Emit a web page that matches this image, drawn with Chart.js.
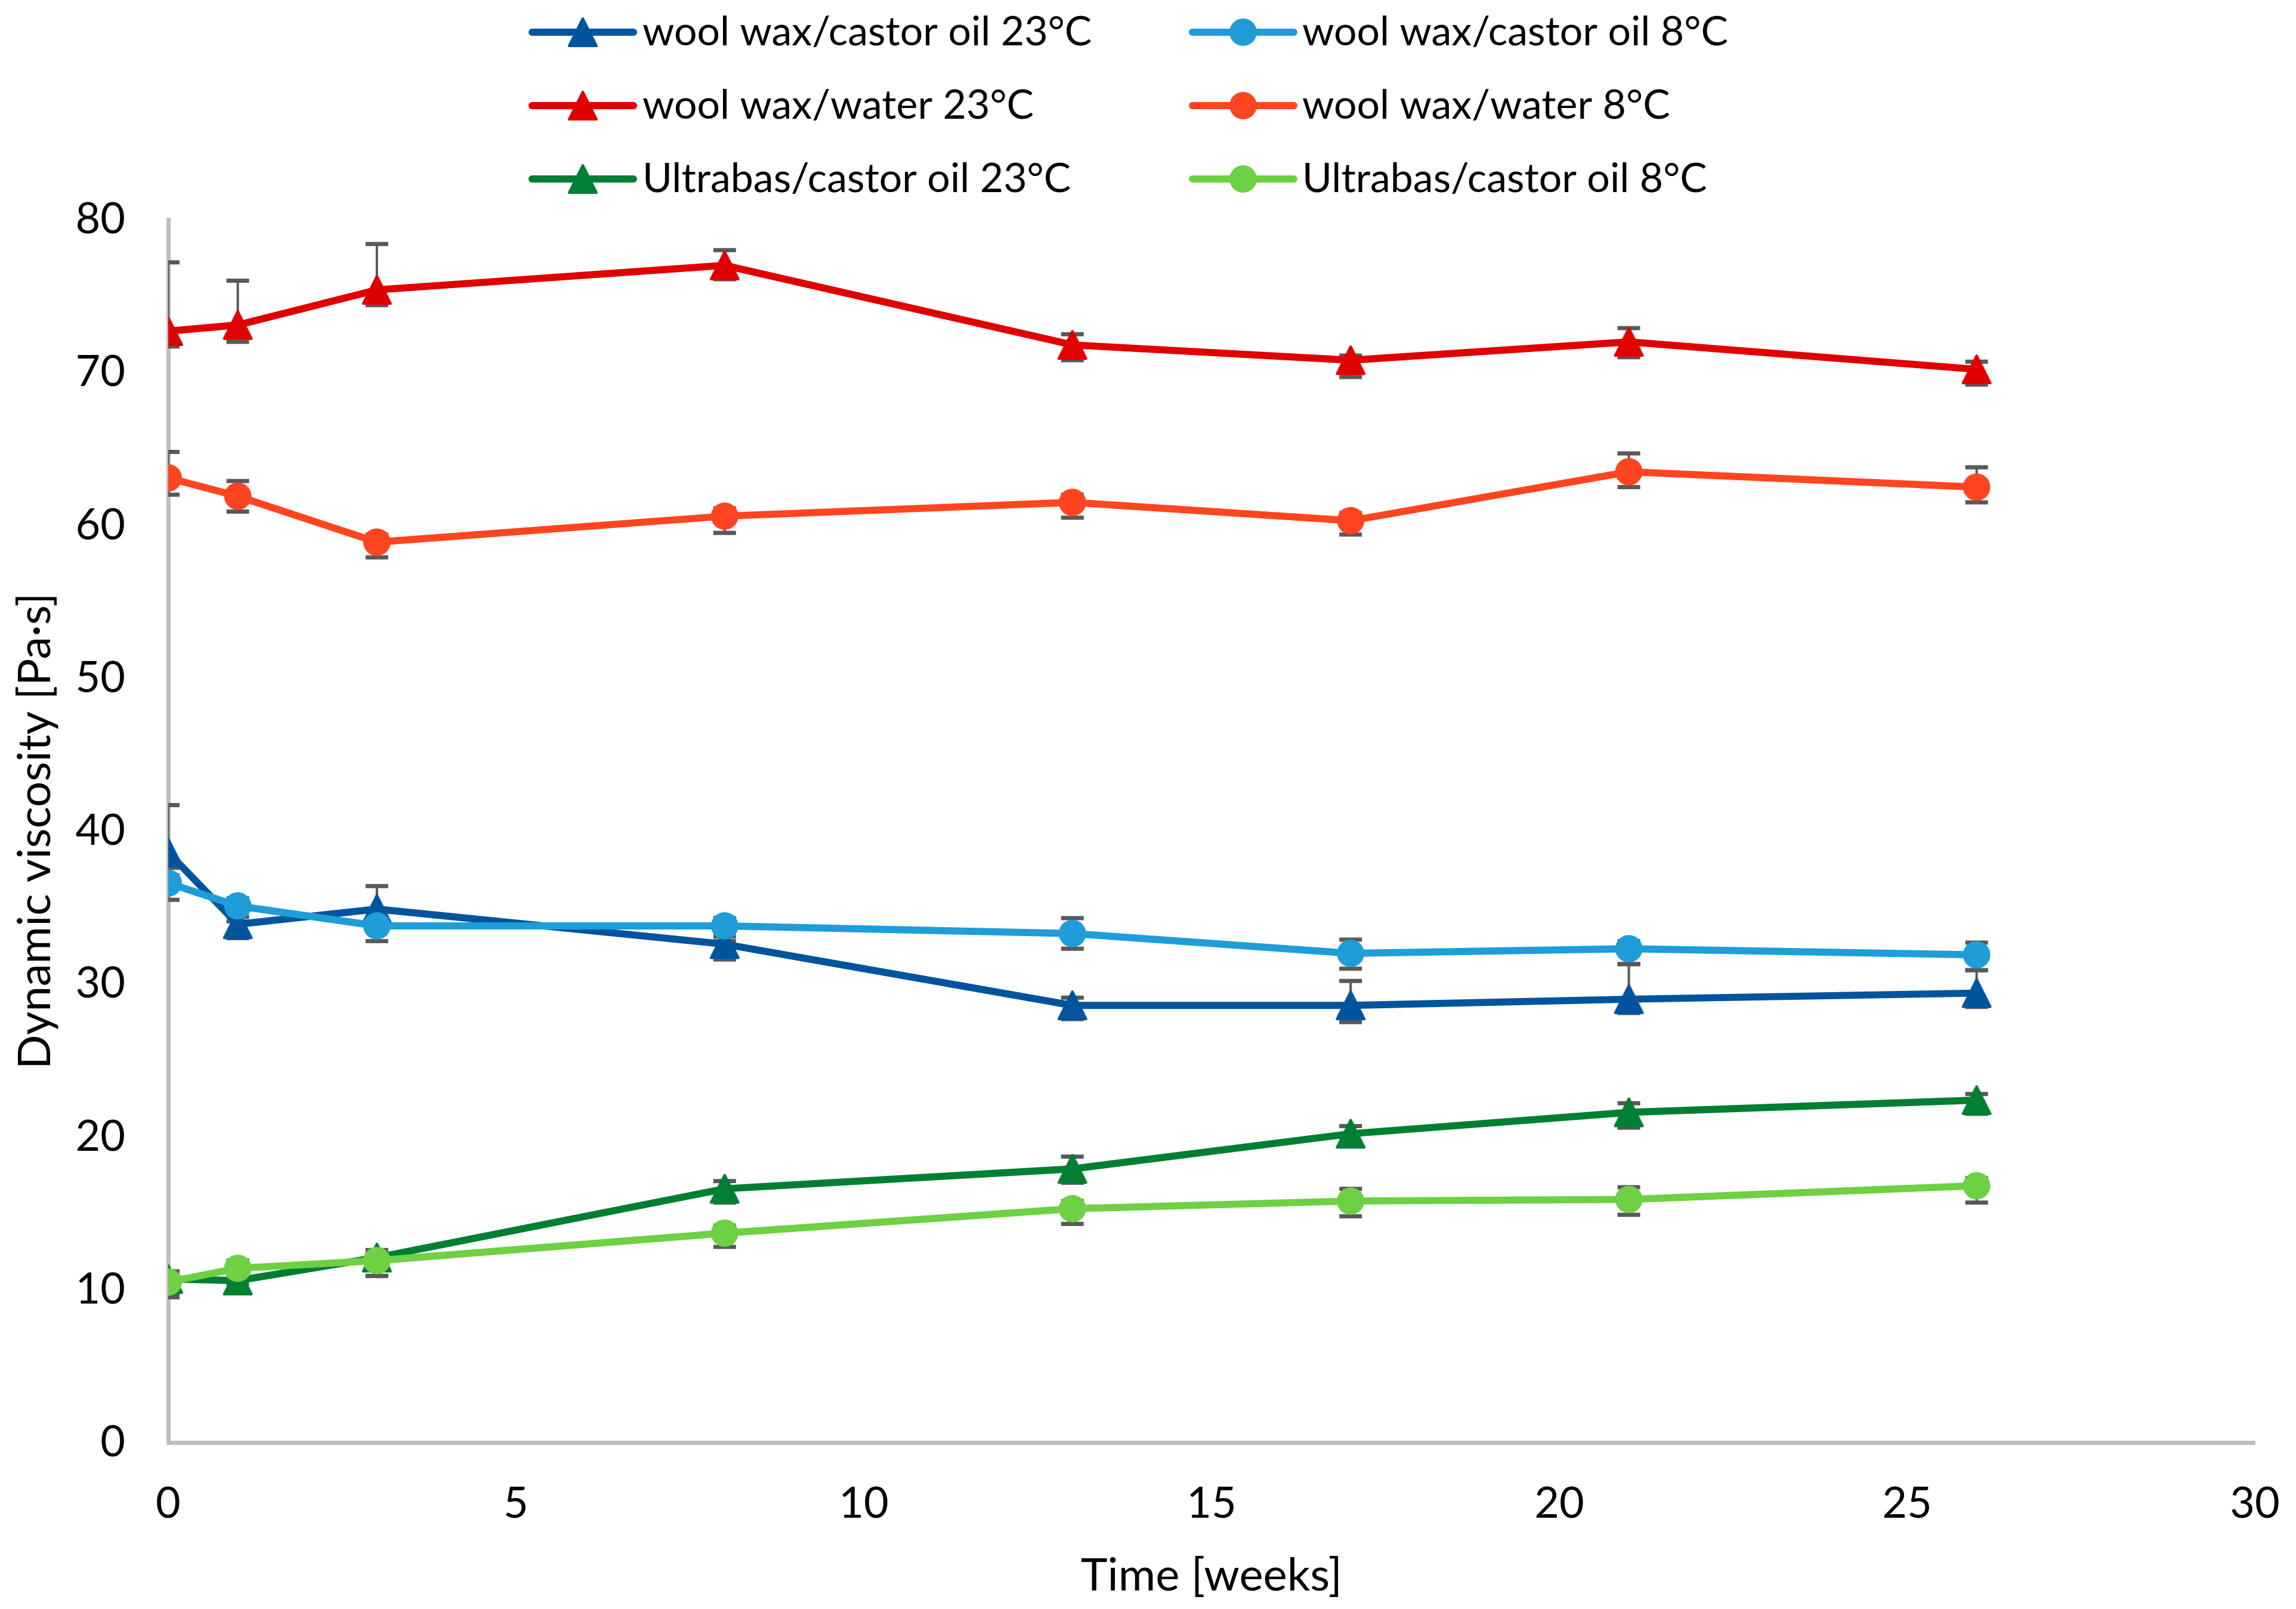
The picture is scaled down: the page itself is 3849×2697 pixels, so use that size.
<!DOCTYPE html>
<html>
<head>
<meta charset="utf-8">
<script src="https://cdn.jsdelivr.net/npm/chart.js@4.4.0/dist/chart.umd.min.js"></script>
<style>
  html, body { margin: 0; padding: 0; background: #fff; overflow: hidden; }
  canvas { display: block; }
</style>
</head>
<body>
<canvas id="canvas-1" width="3849" height="2697"></canvas>
<script>
'use strict';

// time points (weeks)
var weeks = [0, 1, 3, 8, 13, 17, 21, 26];

// dynamic viscosity [Pa·s]
var woolCastor23 = [38.6, 33.9, 34.9, 32.6, 28.6, 28.6, 29.0, 29.4];
var woolCastor8  = [36.6, 35.1, 33.8, 33.8, 33.3, 32.0, 32.3, 31.9];
var woolWater23  = [72.7, 73.1, 75.4, 77.0, 71.8, 70.8, 72.0, 70.2];
var woolWater8   = [63.1, 61.9, 58.9, 60.6, 61.5, 60.3, 63.5, 62.5];
var ultraCastor23 = [10.7, 10.6, 12.1, 16.6, 17.9, 20.2, 21.6, 22.4];
var ultraCastor8  = [10.5, 11.4, 11.9, 13.7, 15.3, 15.8, 15.9, 16.8];

// error bars (plus / minus)
var woolCastor23Up = [3.1, 0.5, 1.5, 0.5, 0.5, 1.6, 2.3, 1.5];
var woolCastor23Dn = [1.0, 0.9, 1.0, 1.0, 0.9, 1.1, 0.9, 0.9];
var woolCastor8Up  = [0.5, 0.5, 0.5, 0.5, 1.0, 0.9, 0.5, 0.8];
var woolCastor8Dn  = [1.1, 1.0, 1.0, 1.0, 1.0, 1.0, 1.0, 1.0];
var woolWater23Up  = [4.5, 2.9, 3.0, 1.0, 0.7, 0.3, 0.9, 0.5];
var woolWater23Dn  = [1.0, 1.1, 1.0, 0.9, 1.0, 1.1, 1.0, 1.0];
var woolWater8Up   = [1.7, 1.0, 0.5, 0.5, 0.5, 0.5, 1.2, 1.3];
var woolWater8Dn   = [1.1, 1.0, 1.0, 1.1, 1.0, 0.9, 1.0, 1.0];
var ultraCastor23Up = [0.5, 0.5, 0.5, 0.5, 0.8, 0.5, 0.6, 0.4];
var ultraCastor23Dn = [1.0, 0.8, 1.2, 0.9, 0.9, 0.8, 1.0, 0.9];
var ultraCastor8Up  = [0.5, 0.5, 0.5, 0.5, 0.5, 0.8, 0.8, 0.5];
var ultraCastor8Dn  = [1.0, 1.0, 1.0, 0.9, 1.0, 1.0, 1.0, 1.1];

var seriesLabels = [
  'wool wax/castor oil 23°C', 'wool wax/castor oil 8°C',
  'wool wax/water 23°C', 'wool wax/water 8°C',
  'Ultrabas/castor oil 23°C', 'Ultrabas/castor oil 8°C'
];
var seriesColors = ['#00549E', '#1E9DD9', '#E00000', '#FF4520', '#007F32', '#6ED043'];

var xTicks = [0, 5, 10, 15, 20, 25, 30];
var yTicks = [0, 10, 20, 30, 40, 50, 60, 70, 80];

var FONT = 'Lato, "Noto Sans", sans-serif';

// triangle marker drawn once per colour
function triangleMarker(color) {
  var c = document.createElement('canvas');
  c.width = 52; c.height = 52;
  var g = c.getContext('2d');
  g.fillStyle = color;
  g.strokeStyle = color;
  g.lineWidth = 4;
  g.lineJoin = 'round';
  g.beginPath();
  g.moveTo(26, 3);
  g.lineTo(49, 49);
  g.lineTo(3, 49);
  g.closePath();
  g.fill();
  g.stroke();
  return c;
}

function points(vals) {
  return weeks.map(function (w, i) { return {x: w, y: vals[i]}; });
}

var values = [woolCastor23, woolCastor8, woolWater23, woolWater8, ultraCastor23, ultraCastor8];
var ups = [woolCastor23Up, woolCastor8Up, woolWater23Up, woolWater8Up, ultraCastor23Up, ultraCastor8Up];
var downs = [woolCastor23Dn, woolCastor8Dn, woolWater23Dn, woolWater8Dn, ultraCastor23Dn, ultraCastor8Dn];

var datasets = values.map(function (v, i) {
  var tri = (i % 2 === 0);
  return {
    label: seriesLabels[i],
    data: points(v),
    errUp: ups[i],
    errDown: downs[i],
    borderColor: seriesColors[i],
    backgroundColor: seriesColors[i],
    pointBackgroundColor: seriesColors[i],
    pointBorderColor: seriesColors[i],
    pointBorderWidth: 0,
    pointStyle: tri ? triangleMarker(seriesColors[i]) : 'circle',
    pointRadius: tri ? 26 : 23,
    pointHoverRadius: tri ? 26 : 23,
    borderWidth: 12,
    tension: 0,
    order: 10 - i
  };
});

var errorBars = {
  id: 'errorBars',
  beforeDatasetsDraw: function (chart) {
    var ctx = chart.ctx, xs = chart.scales.x, ys = chart.scales.y, a = chart.chartArea;
    ctx.save();
    ctx.beginPath();
    ctx.rect(a.left, a.top - 100, a.right - a.left, a.bottom - a.top + 100);
    ctx.clip();
    ctx.strokeStyle = '#595959';
    chart.data.datasets.forEach(function (ds) {
      ds.data.forEach(function (p, j) {
        var x = xs.getPixelForValue(p.x);
        var yTop = ys.getPixelForValue(p.y + ds.errUp[j]);
        var yBot = ys.getPixelForValue(p.y - ds.errDown[j]);
        ctx.lineWidth = 4;
        ctx.beginPath();
        ctx.moveTo(x, yTop); ctx.lineTo(x, yBot);
        ctx.stroke();
        ctx.lineWidth = 7;
        ctx.beginPath();
        ctx.moveTo(x - 19, yTop); ctx.lineTo(x + 19, yTop);
        ctx.moveTo(x - 19, yBot); ctx.lineTo(x + 19, yBot);
        ctx.stroke();
      });
    });
    ctx.restore();
  }
};

// two-column legend like the original
var sketchLegend = {
  id: 'sketchLegend',
  afterDraw: function (chart) {
    var ctx = chart.ctx;
    var rows = [54, 177, 300];
    var cols = [
      {l0: 892, l1: 1062, m: 977, t: 1077},
      {l0: 1999, l1: 2169, m: 2084, t: 2183}
    ];
    ctx.save();
    chart.data.datasets.forEach(function (ds, i) {
      var c = cols[i % 2], y = rows[Math.floor(i / 2)];
      ctx.strokeStyle = ds.borderColor;
      ctx.lineWidth = 12;
      ctx.lineCap = 'round';
      ctx.beginPath();
      ctx.moveTo(c.l0, y); ctx.lineTo(c.l1, y);
      ctx.stroke();
      if (typeof ds.pointStyle === 'string') {
        ctx.fillStyle = ds.pointBackgroundColor;
        ctx.beginPath();
        ctx.arc(c.m, y, 23, 0, Math.PI * 2);
        ctx.fill();
      } else {
        ctx.drawImage(ds.pointStyle, c.m - 26, y - 26);
      }
      ctx.fillStyle = '#000';
      ctx.font = '68px ' + FONT;
      ctx.textBaseline = 'middle';
      ctx.textAlign = 'left';
      ctx.fillText(ds.label, c.t, y);
    });
    ctx.restore();
  }
};

var ctx = document.getElementById('canvas-1');
var chart = new Chart(ctx, {
  type: 'line',
  data: {datasets: datasets},
  plugins: [errorBars, sketchLegend],
  options: {
    responsive: false,
    devicePixelRatio: 1,
    animation: false,
    layout: {padding: {left: 0, top: 368, right: 69, bottom: 0}},
    plugins: {legend: {display: false}, tooltip: {enabled: false}},
    scales: {
      x: {
        type: 'linear',
        min: 0, max: 30,
        afterBuildTicks: function (s) { s.ticks = xTicks.map(function (v) { return {value: v}; }); },
        afterFit: function (s) { s.height = 279; s.paddingLeft = 0; s.paddingRight = 0; },
        grid: {display: false, drawTicks: false},
        border: {display: true, color: '#BFBFBF', width: 7},
        ticks: {color: '#000', padding: 60, font: {family: FONT, size: 72}},
        title: {display: true, text: 'Time [weeks]', color: '#000',
                padding: {top: 0, bottom: 10}, font: {family: FONT, size: 76}}
      },
      y: {
        min: 0, max: 80,
        afterBuildTicks: function (s) { s.ticks = yTicks.map(function (v) { return {value: v}; }); },
        afterFit: function (s) { s.width = 282; },
        grid: {display: false, drawTicks: false},
        border: {display: true, color: '#BFBFBF', width: 7},
        ticks: {color: '#000', padding: 72, font: {family: FONT, size: 72}},
        title: {display: true, text: 'Dynamic viscosity [Pa·s]', color: '#000',
                padding: {top: 14, bottom: 0}, font: {family: FONT, size: 76}}
      }
    }
  }
});
</script>
</body>
</html>
